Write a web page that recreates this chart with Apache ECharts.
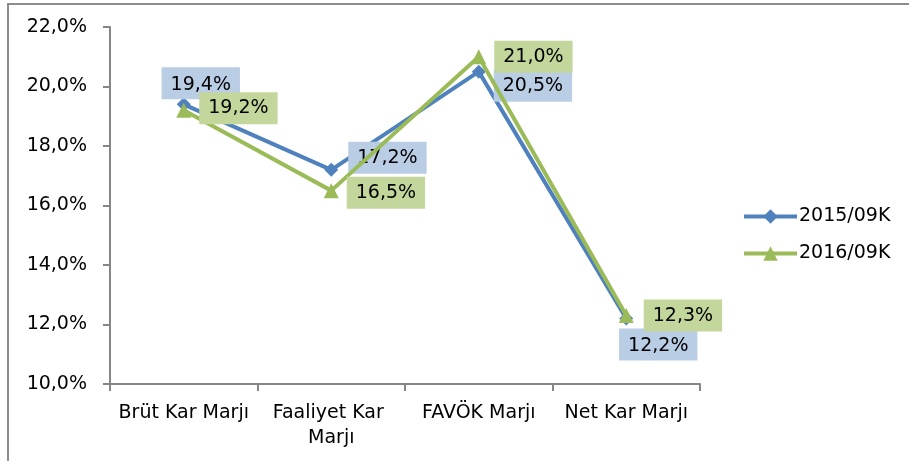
<!DOCTYPE html>
<html>
<head>
<meta charset="utf-8">
<script src="https://cdn.jsdelivr.net/npm/echarts@6/dist/echarts.min.js"></script>
<style>
  html, body { margin: 0; padding: 0; background: #fff; }
  #main { width: 909px; height: 461px; }
</style>
</head>
<body>
<div id="main"></div>
<script>
var categories = ['Brüt Kar Marjı', 'Faaliyet Kar Marjı', 'FAVÖK Marjı', 'Net Kar Marjı'];
var seriesNames = ['2015/09K', '2016/09K'];
var values2015 = [19.4, 17.2, 20.5, 12.2];
var values2016 = [19.2, 16.5, 21.0, 12.3];

var FONT = 'DejaVu Sans';
var FSIZE = 19;

// label placement per point
var pos2015 = [
  { position: 'top', offset: [17, 10] },
  { position: 'right', offset: [2, -12] },
  { position: 'right', offset: [0, 14] },
  { position: 'bottom', offset: [32, -5] }
];
var pos2016 = [
  { position: 'right', offset: [0, -2] },
  { position: 'right', offset: [0, 2] },
  { position: 'right', offset: [0, 0] },
  { position: 'right', offset: [2, 0] }
];

function fmt(v) {
  return v.toFixed(1).replace('.', ',') + '%';
}

function buildData(vals, pos, bg) {
  return vals.map(function (v, i) {
    return {
      value: v,
      label: {
        show: true,
        position: pos[i].position,
        offset: pos[i].offset,
        distance: 8,
        backgroundColor: bg,
        padding: [8, 9, 5, 9],
        color: '#000',
        fontSize: FSIZE,
        fontFamily: FONT,
        formatter: function (p) { return fmt(p.value); }
      }
    };
  });
}

var myChart = echarts.init(document.getElementById('main'));
var option = {
  animation: false,
  backgroundColor: '#fff',
  graphic: [{
    type: 'rect',
    shape: { x: 8, y: 4, width: 1200, height: 1200 },
    style: { fill: 'none', stroke: '#8c8c8c', lineWidth: 2 },
    silent: true
  }],
  grid: { left: 110, right: 209, top: 27, bottom: 77 },
  legend: {
    orient: 'vertical',
    left: 737,
    top: 202,
    itemWidth: 53,
    itemHeight: 18,
    itemGap: 18,
    lineStyle: { width: 4 },
    textStyle: { fontFamily: FONT, fontSize: FSIZE, color: '#000', padding: [0, 0, 0, -3] },
    data: seriesNames
  },
  xAxis: {
    type: 'category',
    data: categories,
    boundaryGap: true,
    axisLine: { lineStyle: { color: '#868686', width: 2 } },
    axisTick: { show: true, alignWithLabel: false, length: 7, lineStyle: { color: '#868686', width: 2 } },
    axisLabel: {
      interval: 0,
      margin: 17,
      width: 158,
      overflow: 'break',
      lineHeight: 25,
      fontFamily: FONT,
      fontSize: FSIZE,
      color: '#000'
    }
  },
  yAxis: {
    type: 'value',
    min: 10,
    max: 22,
    interval: 2,
    splitLine: { show: false },
    axisLine: { show: true, lineStyle: { color: '#868686', width: 2 } },
    axisTick: { show: true, length: 7, lineStyle: { color: '#868686', width: 2 } },
    axisLabel: {
      margin: 23,
      fontFamily: FONT,
      fontSize: FSIZE,
      color: '#000',
      formatter: function (v) { return fmt(v); }
    }
  },
  series: [
    {
      name: seriesNames[0],
      type: 'line',
      data: buildData(values2015, pos2015, '#B9CDE5'),
      symbol: 'diamond',
      symbolSize: 14,
      lineStyle: { color: '#4F81BD', width: 4 },
      itemStyle: { color: '#4F81BD' },
      z: 3
    },
    {
      name: seriesNames[1],
      type: 'line',
      data: buildData(values2016, pos2016, '#C3D69B'),
      symbol: 'triangle',
      symbolSize: 15,
      lineStyle: { color: '#9BBB59', width: 4 },
      itemStyle: { color: '#9BBB59' },
      z: 4
    }
  ]
};
myChart.setOption(option);
window.addEventListener('resize', function () { myChart.resize(); });
</script>
</body>
</html>
